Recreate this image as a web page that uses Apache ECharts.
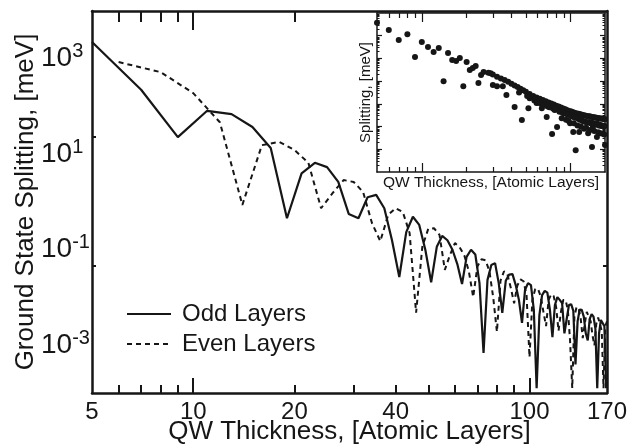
<!DOCTYPE html>
<html>
<head>
<meta charset="utf-8">
<script src="https://cdn.jsdelivr.net/npm/echarts@6/dist/echarts.min.js"></script>
<style>
html, body { margin: 0; padding: 0; background: #fff; }
#chart { width: 629px; height: 448px; }
</style>
</head>
<body>
<div id="chart"></div>
<script>
var oddLayers = [5,7,9,11,13,15,17,19,21,23,25,27,29,31,33,35,37,39,41,43,45,47,49,51,53,55,57,59,61,63,65,67,69,71,73,75,77,79,81,83,
    85,87,89,91,93,95,97,99,101,103,105,107,109,111,113,115,117,119,121,123,125,127,129,131,133,135,137,139,141,143,145,147,149,151,153,155,157,159,161,163,165,167,169];
var oddSplitting = [2.24e3, 224, 22.9, 81.3, 69.2, 37.2, 13.5, 0.457, 3.98, 6.61,
    5.37, 2.63, 0.562, 0.457, 1.26, 1.41, 0.741, 0.158, 2.69e-2, 0.234,
    0.49, 0.331, 0.1, 2.09e-2, 0.115, 0.195, 0.158, 0.1, 5.01e-2, 1.91e-2,
    7.08e-2, 0.1, 7.94e-2, 2.0e-2, 6.92e-4, 2.34e-2, 4.79e-2, 5.25e-2, 2.0e-2, 4.79e-3,
    2.24e-2, 3.02e-2, 3.09e-2, 1.82e-2, 8.91e-3, 2.95e-3, 1.45e-2, 2.0e-2, 1.82e-2, 5.5e-3,
    1.26e-4, 4.27e-3, 1.12e-2, 1.38e-2, 1.26e-2, 5.5e-3, 1.48e-3, 6.92e-3, 1.02e-2, 8.91e-3,
    7.59e-3, 1.78e-3, 3.55e-3, 6.92e-3, 7.24e-3, 5.25e-3, 3.98e-4, 3.16e-3, 5.62e-3, 5.5e-3,
    3.98e-3, 1.78e-3, 1.26e-3, 3.55e-3, 4.47e-3, 3.98e-3, 2.24e-3, 1.26e-4, 1.78e-3, 3.39e-3,
    3.39e-3, 2.51e-3, 1.26e-4];

var evenLayers = [6,8,10,12,14,16,18,20,22,24,26,28,30,32,34,36,38,40,42,44,46,48,50,52,54,56,58,60,62,64,66,68,70,72,74,76,78,80,82,84,
    86,88,90,92,94,96,98,100,102,104,106,108,110,112,114,116,118,120,122,124,126,128,130,132,134,136,138,140,142,144,146,148,150,152,154,156,158,160,162,164,166,168,170];
var evenSplitting = [851, 525, 191, 46.8, 0.871, 15.5, 18.2, 12.3, 6.61, 0.741,
    1.55, 2.88, 2.63, 1.62, 0.363, 0.151, 0.537, 0.741, 0.617, 0.224,
    4.79e-3, 0.115, 0.275, 0.282, 0.204, 3.8e-2, 7.76e-2, 0.138, 0.112, 7.59e-2,
    3.55e-2, 1.02e-2, 4.47e-2, 6.31e-2, 6.03e-2, 3.55e-2, 1.0e-2, 1.91e-3, 2.24e-2, 3.55e-2,
    3.02e-2, 1.58e-2, 7.59e-3, 1.78e-2, 2.4e-2, 2.19e-2, 1.12e-2, 5.62e-4, 8.91e-3, 1.51e-2,
    1.51e-2, 1.05e-2, 5.01e-3, 2.51e-3, 8.91e-3, 1.17e-2, 1.07e-2, 6.31e-3, 2.0e-3, 5.01e-3,
    8.91e-3, 8.91e-3, 5.62e-3, 1.26e-3, 1.26e-4, 3.98e-3, 6.31e-3, 5.89e-3, 3.55e-3, 1.41e-3,
    2.82e-3, 5.01e-3, 4.79e-3, 3.16e-3, 1.58e-3, 1.0e-3, 2.82e-3, 3.8e-3, 3.55e-3, 2.0e-3,
    1.26e-4, 2.51e-3, 3.16e-3];

// inset: scattered points, then the dense band along the top
var insetLayers = [5,6,7,8,9,10,11,12,13,14,15,16,17,18,19,20,21,22,23,24,25,26,29,30,32,35,37,42,47,52,53,59,64,69,75,78,81,87,99,104,108,114,131,139,141,150,157,170,
    28,30,32,34,36,38,40,42,44,46,48,50,53,56,59,62,65,68,71,74,77,80,83,86,89,92,95,98,101,104,107,110,113,116,119,122,125,128,131,134,137,140,143,146,149,152,155,158,161,164,167,170,
    45,51,57,60,63,66,70,72,76,79,84,88,90,94,96,100,102,106,108,112,115,118,120,124,126,130,133,136,139,142,145,148,151,154,157,160,163,166,169,
    93,97,105,111,117,123,127,135,144,153,162,168];
var insetSplitting = [372, 178, 64.6, 117, 11.5, 52.5, 31.6, 19.1, 28.8, 1.0, 17.4, 8.51, 7.76, 10.5, 0.603, 6.92, 3.09, 3.8, 4.68, 0.832,
    1.86, 2.51, 2.24, 0.676, 0.603, 0.603, 0.245, 7.24e-2, 1.95e-2, 6.46e-2, 0.178, 0.11, 6.46e-2, 2.63e-2, 4.68e-3, 5.37e-2, 9.55e-3, 2.34e-2,
    1.41e-2, 5.75e-3, 9.12e-4, 5.75e-3, 5.13e-3, 1.26e-3, 9.55e-3, 3.47e-3, 5.13e-3, 1.55e-3,
    2.34, 1.95, 1.58, 1.32, 1.12, 0.933, 0.776, 0.646, 0.55, 0.468, 0.398, 0.339, 0.269, 0.219, 0.191, 0.166, 0.148, 0.129, 0.115, 0.105,
    9.33e-2, 8.32e-2, 7.59e-2, 6.92e-2, 6.31e-2, 5.75e-2, 5.25e-2, 4.9e-2, 4.57e-2, 4.27e-2, 3.98e-2, 3.8e-2, 3.63e-2, 3.47e-2, 3.31e-2,
    3.16e-2, 3.09e-2, 2.95e-2, 2.88e-2, 2.82e-2, 2.69e-2, 2.63e-2, 2.57e-2, 2.51e-2, 2.45e-2, 2.4e-2, 2.34e-2, 2.29e-2, 2.24e-2, 2.19e-2, 2.14e-2, 2.09e-2,
    0.316, 0.224, 0.141, 0.112, 0.105, 8.91e-2, 7.59e-2, 7.08e-2, 6.31e-2, 5.62e-2, 4.47e-2, 4.17e-2, 3.8e-2, 3.55e-2, 3.31e-2, 3.02e-2, 2.82e-2,
    2.51e-2, 2.51e-2, 2.24e-2, 2.0e-2, 2.09e-2, 1.78e-2, 1.66e-2, 1.58e-2, 1.51e-2, 1.58e-2, 1.41e-2, 1.48e-2, 1.32e-2, 1.38e-2, 1.26e-2, 1.32e-2,
    1.12e-2, 1.2e-2, 1.07e-2, 1.12e-2, 1.0e-2, 1.05e-2,
    2.0e-2, 1.78e-2, 1.41e-2, 1.12e-2, 1.0e-2, 7.94e-3, 8.91e-3, 7.08e-3, 6.31e-3, 5.62e-3, 5.01e-3, 4.47e-3];

var xTickLabels = [5, 10, 20, 40, 100, 170];
var yTickLabels = [1e3, 1e1, 1e-1, 1e-3];

var font = "'Liberation Sans', Arial, Helvetica, sans-serif";
var ink = '#161616';

function pairs(xs, ys) {
    var out = [];
    for (var i = 0; i < xs.length; i++) {
        out.push([xs[i], ys[i]]);
    }
    return out;
}

var majorX = [10, 100];
var minorX = [6, 7, 8, 9, 20, 30, 40, 50, 60, 70, 80, 90];
var insetMajorY = [1e-3, 1e-2, 1e-1, 1, 10, 100];
var insetMinorY = [];
for (var e = -4; e <= 2; e++) {
    for (var m = 2; m <= 9; m++) {
        insetMinorY.push(m * Math.pow(10, e));
    }
}

function tickAxis(grid, pos, min, max, ticks, len, width, line) {
    return {
        gridIndex: grid, type: 'log', logBase: 10, min: min, max: max, position: pos,
        axisLine: {show: !!line, lineStyle: {color: ink, width: line || 1}},
        axisTick: {show: true, inside: true, length: len, customValues: ticks, lineStyle: {color: ink, width: width}},
        axisLabel: {show: false},
        splitLine: {show: false}
    };
}

var chart = echarts.init(document.getElementById('chart'), null, {renderer: 'canvas'});

var xMain = tickAxis(0, 'bottom', 5, 170, majorX, 15, 2, 2.5);
xMain.axisLabel = {
    show: true, customValues: xTickLabels, margin: 7, color: ink, fontSize: 24, fontFamily: font,
    formatter: function (v) { return String(Math.round(v)); }
};
xMain.name = 'QW Thickness, [Atomic Layers]';
xMain.nameLocation = 'middle';
xMain.nameGap = 26;
xMain.nameMoveOverlap = false;
xMain.nameTextStyle = {color: ink, fontSize: 26, fontFamily: font};

var yMain = tickAxis(0, 'left', 1e-4, 1e4, [23, 0.046], 4, 2, 2.5);
yMain.axisLabel = {
    show: true, customValues: yTickLabels, margin: 51, align: 'left',
    formatter: function (v) {
        return '{b|10}{s|' + Math.round(Math.log10(v)) + '}';
    },
    rich: {
        b: {fontSize: 28, fontFamily: font, color: ink, lineHeight: 34},
        s: {fontSize: 20, fontFamily: font, color: ink, lineHeight: 10, verticalAlign: 'top'}
    }
};
yMain.name = 'Ground State Splitting, [meV]';
yMain.nameLocation = 'middle';
yMain.nameGap = 53;
yMain.nameMoveOverlap = false;
yMain.nameTextStyle = {color: ink, fontSize: 26, fontFamily: font};

var xInset = tickAxis(2, 'bottom', 5, 170, majorX, 9, 1.2, 1.5);
xInset.name = 'QW Thickness, [Atomic Layers]';
xInset.nameLocation = 'middle';
xInset.nameGap = 3;
xInset.nameTextStyle = {color: ink, fontSize: 15.5, fontFamily: font};

var yInset = tickAxis(2, 'left', 1e-4, 1e3, insetMajorY, 5, 1.2, 1.5);
yInset.name = 'Splitting, [meV]';
yInset.nameLocation = 'middle';
yInset.nameGap = 4;
yInset.nameTextStyle = {color: ink, fontSize: 15, fontFamily: font};

chart.setOption({
    animation: false,
    backgroundColor: '#fff',
    grid: [
        {left: 92, top: 11, width: 515, height: 382, outerBoundsMode: 'none'},
        {left: 92, top: 11, width: 515, height: 382, outerBoundsMode: 'none'},
        {left: 377, top: 13, width: 228, height: 159, show: true, backgroundColor: '#fff', borderWidth: 0, outerBoundsMode: 'none'},
        {left: 377, top: 13, width: 228, height: 159, outerBoundsMode: 'none'}
    ],
    xAxis: [
        xMain,
        tickAxis(0, 'top', 5, 170, [10], 19, 2, 2.5),
        tickAxis(1, 'bottom', 5, 170, minorX, 8, 2),
        tickAxis(1, 'top', 5, 170, [6, 7, 8, 9, 20], 11, 2),
        xInset,
        tickAxis(2, 'top', 5, 170, majorX, 9, 1.2, 1.5),
        tickAxis(3, 'bottom', 5, 170, minorX, 5, 1.2),
        tickAxis(3, 'top', 5, 170, minorX, 5, 1.2)
    ],
    yAxis: [
        yMain,
        tickAxis(0, 'right', 1e-4, 1e4, [0.046], 4, 2, 2.5),
        {gridIndex: 1, type: 'log', logBase: 10, min: 1e-4, max: 1e4, show: false},
        yInset,
        tickAxis(2, 'right', 1e-4, 1e3, insetMajorY, 5, 1.2, 1.5),
        tickAxis(3, 'left', 1e-4, 1e3, insetMinorY, 2.5, 1),
        tickAxis(3, 'right', 1e-4, 1e3, insetMinorY, 2.5, 1)
    ],
    legend: {
        data: ['Odd Layers', 'Even Layers'],
        orient: 'vertical', left: 121, top: 296,
        itemWidth: 44, itemHeight: 14, itemGap: 4,
        selectedMode: false,
        itemStyle: {opacity: 0},
        textStyle: {color: ink, fontSize: 24, fontFamily: font, lineHeight: 26, padding: [0, 0, 0, 6]}
    },
    series: [
        {
            name: 'Odd Layers', type: 'line', xAxisIndex: 0, yAxisIndex: 0,
            data: pairs(oddLayers, oddSplitting),
            symbol: 'none', clip: true, z: 3,
            itemStyle: {color: ink},
            lineStyle: {color: ink, width: 2.2}
        },
        {
            name: 'Even Layers', type: 'line', xAxisIndex: 0, yAxisIndex: 0,
            data: pairs(evenLayers, evenSplitting),
            symbol: 'none', clip: true, z: 3,
            itemStyle: {color: ink},
            lineStyle: {color: ink, width: 2, type: [5, 4]}
        },
        {
            type: 'scatter', xAxisIndex: 4, yAxisIndex: 3,
            data: pairs(insetLayers, insetSplitting),
            symbolSize: 6, clip: true, z: 5,
            itemStyle: {color: ink, opacity: 1}
        }
    ]
});
</script>
</body>
</html>
